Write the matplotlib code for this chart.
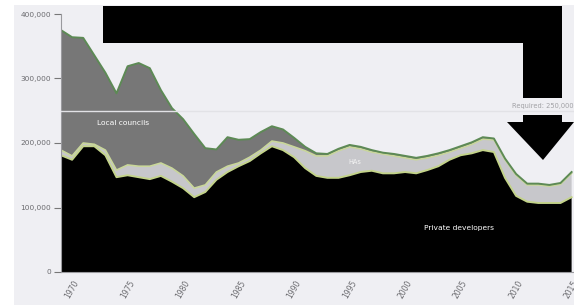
import matplotlib.pyplot as plt
from matplotlib.patches import Rectangle, Polygon

years = list(range(1969, 2016))

# completions, thousands
private = [181, 174, 195, 195, 181, 147, 150, 147, 144, 149, 140, 130, 116, 124, 143,
           155, 164, 172, 184, 195, 189, 178, 161, 149, 146, 146, 150, 155, 157, 153,
           153, 155, 153, 158, 164, 174, 181, 184, 189, 186, 146, 118, 109, 107, 107,
           107, 116]
with_has = [189, 180, 200, 198, 189, 158, 166, 164, 164, 169, 161, 149, 130, 135, 155,
            164, 169, 178, 189, 203, 200, 194, 188, 180, 180, 188, 194, 191, 186, 183,
            180, 177, 174, 177, 181, 186, 192, 198, 206, 205, 174, 150, 135, 135, 133,
            136, 153]
total = [375, 364, 363, 336, 309, 277, 319, 324, 316, 282, 254, 237, 214, 192, 190,
         209, 205, 206, 217, 226, 221, 208, 194, 184, 183, 191, 197, 194, 189, 185,
         183, 180, 177, 180, 184, 189, 195, 201, 209, 207, 176, 152, 137, 137, 135,
         138, 155]

has = [w - p for w, p in zip(with_has, private)]
councils = [t - w for t, w in zip(total, with_has)]

y_ticks = [0, 100000, 200000, 300000, 400000]
y_labels = ["0", "100,000", "200,000", "300,000", "400,000"]
x_ticks = [1970, 1975, 1980, 1985, 1990, 1995, 2000, 2005, 2010, 2015]
required = 250000

bg = "#efeff3"
grey_txt = "#6a6a6e"

fig = plt.figure(figsize=(5.74, 3.05), dpi=100, facecolor="white")
fig.patches.append(Rectangle((14 / 574, 0), 1, 300 / 305, transform=fig.transFigure,
                             facecolor=bg, edgecolor="none", zorder=-5))

ax = fig.add_axes([61 / 574, 33 / 305, 513 / 574, 258 / 305])
ax.set_facecolor(bg)

k = 1000
ax.stackplot(years, [p * k for p in private], [h * k for h in has],
             [c * k for c in councils],
             colors=["black", "#c7c7cb", "#777777"], linewidth=0)
ax.plot(years, [p * k for p in private], color="#c3d38a", lw=1.4)
ax.plot(years, [w * k for w in with_has], color="#c9d79a", lw=1.2)
ax.plot(years, [t * k for t in total], color="#5d8a55", lw=1.4)

ax.axhline(required, color="#e2e2e6", lw=1, zorder=5)
ax.text(2015.2, required + 3000, "Required: 250,000", color="#a0a0a4",
        fontsize=4.8, ha="right", va="bottom", clip_on=False)

ax.text(1974.6, 231000, "Local councils", color="white", fontsize=5.4,
        ha="center", va="center")
ax.text(1995.5, 170000, "HAs", color="#f4f4f4", fontsize=4.8,
        ha="center", va="center")
ax.text(2004.9, 68000, "Private developers", color="white", fontsize=5.4,
        ha="center", va="center")

ax.set_xlim(1969, 1969 + 513 / 11.1)
ax.set_ylim(0, 400000)
ax.set_yticks(y_ticks)
ax.set_yticklabels(y_labels)
ax.set_xticks(x_ticks)
ax.set_xticklabels([str(x) for x in x_ticks], rotation=60)
ax.tick_params(axis="y", colors="#777777", labelcolor=grey_txt, labelsize=5.3,
               length=5, width=0.8, pad=2)
ax.tick_params(axis="x", length=0, labelcolor=grey_txt, labelsize=5.5, pad=5)
for s in ["top", "right"]:
    ax.spines[s].set_visible(False)
for s in ["left", "bottom"]:
    ax.spines[s].set_color("#9a9a9e")
    ax.spines[s].set_linewidth(0.8)

# black overlay arrow
def px(x, y):
    return (x / 574, 1 - y / 305)

fig.patches.append(Polygon([px(103, 6), px(562, 6), px(562, 98), px(523, 98),
                            px(523, 43), px(103, 43)], closed=True,
                           transform=fig.transFigure, facecolor="black",
                           edgecolor="none", zorder=10))
fig.patches.append(Polygon([px(523, 115), px(562, 115), px(562, 122), px(574, 122),
                            px(543, 160), px(507, 122), px(523, 122)], closed=True,
                           transform=fig.transFigure, facecolor="black",
                           edgecolor="none", zorder=10))

fig.savefig("out.png", dpi=100, facecolor="white")
